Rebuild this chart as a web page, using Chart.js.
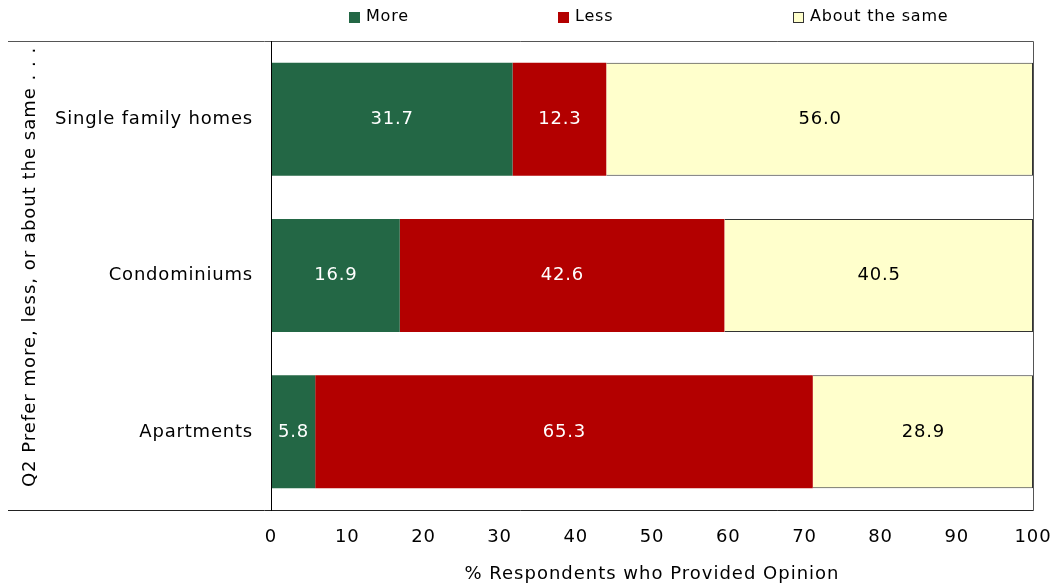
<!DOCTYPE html>
<html>
<head>
<meta charset="utf-8">
<script src="https://cdn.jsdelivr.net/npm/chart.js@4.4.0/dist/chart.umd.min.js"></script>
<style>
  html, body { margin: 0; padding: 0; background: #fff; }
  #wrap { width: 1055px; height: 586px; position: relative; }
</style>
</head>
<body>
<div id="wrap"><canvas id="c" width="1055" height="586"></canvas></div>
<script>
// Housing types asked about in Q2
const categories = ['Single family homes', 'Condominiums', 'Apartments'];
// Share of respondents (%) per answer
const moreValues = [31.7, 16.9, 5.8];
const lessValues = [12.3, 42.6, 65.3];
const sameValues = [56.0, 40.5, 28.9];
const seriesNames = ['More', 'Less', 'About the same'];
const xTicks = [0, 10, 20, 30, 40, 50, 60, 70, 80, 90, 100];
const xTitle = '% Respondents who Provided Opinion';
const yTitle = 'Q2 Prefer more, less, or about the same . . .';

const FONT = '"DejaVu Sans", sans-serif';
const COLORS = ['#236745', '#b30000', '#ffffcc'];
const LABEL_COLORS = ['#ffffff', '#ffffff', '#000000'];
const BASE_SPACING = '0.8px';

// Frame lines, legend row, value labels and axis titles
const decorPlugin = {
  id: 'decor',
  beforeLayout(chart) { chart.ctx.letterSpacing = BASE_SPACING; },
  beforeDraw(chart) { chart.ctx.letterSpacing = BASE_SPACING; },
  afterDatasetsDraw(chart) {
    const ctx = chart.ctx;
    ctx.save();
    // value labels centred on each segment
    ctx.letterSpacing = BASE_SPACING;
    ctx.font = '18px ' + FONT;
    ctx.textAlign = 'center';
    ctx.textBaseline = 'middle';
    chart.data.datasets.forEach((ds, i) => {
      const meta = chart.getDatasetMeta(i);
      meta.data.forEach((bar, j) => {
        const v = ds.data[j];
        ctx.fillStyle = LABEL_COLORS[i];
        ctx.fillText(v.toFixed(1), (bar.x + bar.base) / 2 + 0.4, bar.y);
      });
    });
    ctx.restore();
  },
  afterDraw(chart) {
    const ctx = chart.ctx;
    const a = chart.chartArea;
    ctx.save();
    // outer frame
    ctx.lineWidth = 1;
    ctx.strokeStyle = '#555';
    ctx.beginPath();
    ctx.moveTo(8, a.top + 0.5); ctx.lineTo(a.right + 0.5, a.top + 0.5);
    ctx.lineTo(a.right + 0.5, a.bottom + 0.5);
    ctx.stroke();
    ctx.strokeStyle = '#222';
    ctx.beginPath();
    ctx.moveTo(8, a.bottom + 0.5); ctx.lineTo(a.right + 0.5, a.bottom + 0.5);
    ctx.stroke();
    ctx.strokeStyle = '#000';
    ctx.beginPath();
    ctx.moveTo(a.left + 0.5, a.top); ctx.lineTo(a.left + 0.5, a.bottom + 1);
    ctx.stroke();

    // legend row
    const legendX = [349, 558, 793];
    ctx.letterSpacing = BASE_SPACING;
    ctx.font = '16px ' + FONT;
    ctx.textBaseline = 'middle';
    ctx.textAlign = 'left';
    chart.data.datasets.forEach((ds, i) => {
      const x = legendX[i];
      ctx.fillStyle = ds.backgroundColor;
      ctx.fillRect(x, 12, 11, 11);
      if (i === 2) {
        ctx.strokeStyle = '#333';
        ctx.strokeRect(x + 0.5, 12.5, 10, 10);
      }
      ctx.fillStyle = '#000';
      ctx.fillText(ds.label, x + 17, 17);
    });

    // axis titles
    ctx.font = '18px ' + FONT;
    ctx.textAlign = 'center';
    ctx.letterSpacing = '1px';
    ctx.fillText(xTitle, (a.left + a.right) / 2, 574);
    ctx.letterSpacing = '1px';
    ctx.translate(30, 267);
    ctx.rotate(-Math.PI / 2);
    ctx.fillText(yTitle, 0, 0);
    ctx.restore();
  }
};

new Chart(document.getElementById('c'), {
  type: 'bar',
  data: {
    labels: categories,
    datasets: [
      { label: seriesNames[0], data: moreValues, backgroundColor: COLORS[0], borderWidth: 0 },
      { label: seriesNames[1], data: lessValues, backgroundColor: COLORS[1], borderWidth: 0 },
      { label: seriesNames[2], data: sameValues, backgroundColor: COLORS[2], borderColor: '#333', borderWidth: 1 }
    ]
  },
  options: {
    indexAxis: 'y',
    responsive: false,
    animation: false,
    layout: { padding: { left: 0, right: 22, top: 41, bottom: 0 } },
    datasets: { bar: { categoryPercentage: 1, barPercentage: 0.723 } },
    plugins: { legend: { display: false }, tooltip: { enabled: false } },
    scales: {
      x: {
        stacked: true,
        min: 0, max: 100,
        afterFit(scale) {
          scale.height = 76;
          scale.paddingLeft = 0;
          scale.paddingRight = 0;
        },
        afterBuildTicks(scale) { scale.ticks = xTicks.map(v => ({ value: v })); },
        grid: { display: false, drawTicks: false },
        border: { display: false },
        ticks: { padding: 17, color: '#000', font: { family: FONT, size: 18 } }
      },
      y: {
        stacked: true,
        afterFit(scale) { scale.width = 271; },
        grid: { display: false, drawTicks: false },
        border: { display: false },
        ticks: { padding: 18, color: '#000', font: { family: FONT, size: 18 } }
      }
    }
  },
  plugins: [decorPlugin]
});
</script>
</body>
</html>
